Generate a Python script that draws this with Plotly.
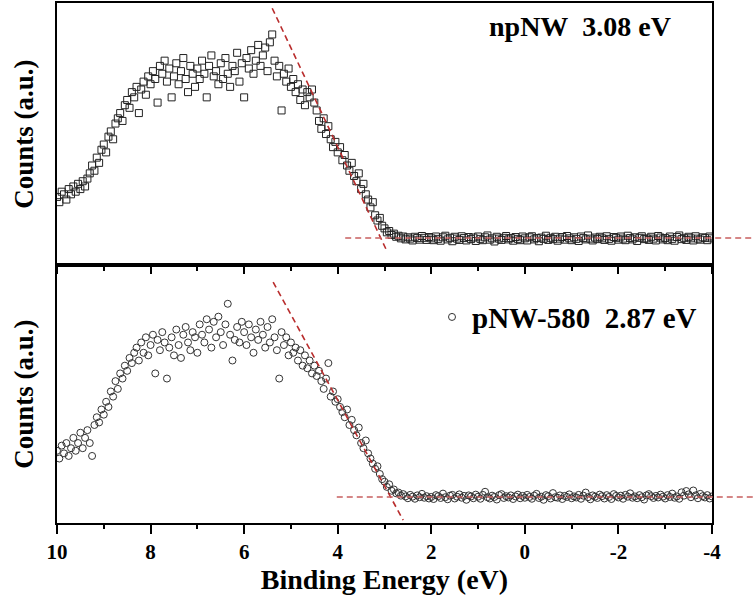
import numpy as np
import plotly.graph_objects as go

# ---------------- data ----------------
energy = np.round(np.linspace(10, -4, 281), 2)   # binding energy grid, 0.05 eV steps

counts_npNW = [
    26, 24, 28, 27, 25, 29, 27, 30, 28, 31, 29, 32, 30, 33, 35, 38, 36, 41, 39, 44,
    46, 43, 49, 51, 48, 54, 56, 58, 55, 61, 63, 60, 66, 64, 68, 58, 67, 70, 65, 72,
    69, 74, 71, 62, 76, 73, 78, 70, 75, 64, 72, 77, 69, 74, 79, 71, 66, 76, 73, 68,
    75, 71, 78, 73, 64, 76, 80, 72, 74, 69, 77, 71, 79, 73, 68, 76, 74, 81, 70, 77,
    64, 79, 75, 82, 73, 78, 84, 76, 80, 83, 74, 85, 88, 78, 72, 76, 59, 73, 70, 75,
    68, 71, 66, 69, 63, 67, 61, 66, 64, 67, 62, 59, 55, 52, 56, 50, 53, 48, 45, 47,
    43, 45, 40, 42, 38, 36, 39, 34, 32, 35, 29, 31, 27, 25, 22, 24, 19, 17, 18, 15,
    14, 12.5, 13, 11.5, 12, 10.8, 11.2, 10.2, 10.9, 9.8, 10.6, 10.1, 9.4, 10.8, 10.3, 9.7, 11.1, 10.4, 9.6, 10.7,
    10.2, 9.5, 10.9, 10.0, 9.3, 10.6, 11.2, 9.8, 10.4, 9.1, 10.8, 10.1, 9.6, 11.0, 10.3, 9.4, 10.7, 9.9, 10.5, 9.2,
    10.9, 10.0, 9.5, 10.6, 11.3, 9.7, 10.2, 9.0, 10.8, 10.1, 9.6, 10.4, 11.1, 9.8, 10.3, 9.3, 10.7, 10.0, 9.5, 10.9,
    10.2, 9.4, 10.6, 11.0, 9.8, 10.3, 9.1, 10.5, 10.0, 11.2, 9.6, 10.4, 9.9, 10.8, 9.3, 10.1, 10.7, 9.7, 11.1, 10.2,
    9.5, 10.6, 10.0, 9.2, 10.9, 10.3, 9.8, 11.3, 10.1, 9.4, 10.5, 9.9, 10.8, 10.2, 9.6, 11.0, 10.0, 9.3, 10.7, 10.4,
    9.7, 10.9, 10.1, 9.5, 11.2, 10.3, 9.8, 10.6, 9.2, 10.4, 11.0, 9.9, 10.2, 9.6, 10.8, 10.1, 9.4, 11.1, 10.5, 9.8,
    10.3, 9.5, 10.9, 10.0, 9.3, 10.7, 11.3, 9.9, 10.4, 9.6, 10.8, 10.2, 9.4, 11.0, 10.1, 9.7, 10.6, 10.3, 9.5, 10.9,
    10.2,
]

counts_pNW580 = [
    28, 25, 30, 27, 31, 26, 29, 33, 28, 31, 35, 29, 33, 36, 31, 26, 38, 41, 39, 44,
    42, 47, 45, 51, 49, 55, 52, 58, 56, 61, 59, 64, 62, 66, 68, 63, 70, 66, 72, 65,
    69, 73, 58, 71, 67, 74, 70, 56, 68, 72, 65, 75, 69, 64, 73, 76, 70, 67, 74, 72,
    66, 77, 73, 70, 79, 75, 68, 78, 72, 80, 74, 69, 77, 85, 73, 63, 71, 76, 70, 78,
    74, 69, 77, 72, 66, 75, 71, 78, 73, 68, 76, 70, 79, 72, 67, 56, 74, 69, 72, 65,
    70, 66, 68, 63, 67, 61, 65, 60, 63, 58, 61, 57, 59, 55, 52, 56, 62, 49, 51, 47,
    48, 45, 43, 41, 44, 38, 40, 36, 34, 37, 31, 29, 32, 27, 25, 23, 21, 22, 19, 17,
    16, 14, 15, 12.5, 13, 11.5, 11.8, 10.6, 11.2, 10.3, 9.6, 10.9, 10.2, 9.4, 10.7, 10.0, 11.3, 9.8, 10.4, 9.5,
    10.1, 9.3, 10.8, 10.4, 9.7, 11.4, 10.0, 9.2, 10.6, 10.9, 9.5, 10.2, 11.1, 9.8, 10.5, 9.0, 10.7, 10.3, 9.6, 11.0,
    10.2, 9.4, 10.9, 12.1, 10.0, 9.5, 10.6, 10.1, 9.1, 10.8, 11.2, 9.7, 10.4, 9.9, 10.7, 9.3, 10.3, 11.0, 9.6, 10.5,
    9.8, 10.9, 10.1, 9.4, 10.6, 11.3, 9.7, 10.2, 9.0, 10.8, 10.4, 9.5, 11.6, 10.0, 9.8, 10.7, 9.3, 10.5, 10.1, 11.1,
    9.6, 10.3, 9.9, 10.9, 9.4, 10.6, 11.8, 10.0, 9.2, 10.7, 10.2, 9.7, 11.0, 10.4, 9.5, 10.8, 10.1, 9.3, 11.2, 10.5,
    9.9, 10.6, 9.4, 10.9, 10.2, 11.5, 9.8, 10.3, 9.6, 10.8, 10.0, 9.1, 10.7, 11.2, 10.4, 9.7, 10.5, 9.9, 11.0, 10.2,
    9.5, 10.8, 10.1, 11.4, 9.8, 10.3, 9.4, 11.9, 10.6, 12.4, 11.1, 10.0, 12.6, 10.7, 9.6, 11.3, 10.4, 9.9, 10.8, 9.5,
    10.3,
]

# linear fits of the leading edge and of the background
fit_edge_npNW_x = [5.40, 2.95]
fit_edge_npNW_y = [98.0, 5.4]
fit_base_npNW_x = [3.84, -4.88]
fit_base_npNW_y = [10.3, 10.3]

fit_edge_pNW_x = [5.38, 2.60]
fit_edge_pNW_y = [93.4, 1.1]
fit_base_pNW_x = [4.02, -4.88]
fit_base_pNW_y = [10.1, 10.1]

label_npNW = "npNW\u00a0\u00a03.08 eV"
label_pNW = "pNW-580\u00a0\u00a02.87 eV"

x_range = [10, -4]
x_tickvals = [10, 8, 6, 4, 2, 0, -2, -4]
x_ticktext = ["10", "8", "6", "4", "2", "0", "-2", "-4"]

# ---------------- figure ----------------
SERIF = "Liberation Serif"
EDGE_COLOR = "rgb(185,45,45)"
BASE_COLOR = "rgb(200,95,95)"
DASH = "6px,4px"

def to_domain(xv):
    # data x -> fraction of the x-axis domain (reversed axis)
    return (x_range[0] - xv) / (x_range[0] - x_range[1])

fig = go.Figure()

fig.add_trace(go.Scatter(
    x=energy, y=counts_npNW, mode="markers", xaxis="x", yaxis="y",
    marker=dict(symbol="square-open", size=7, color="#222", line=dict(width=1)),
    showlegend=False, name=label_npNW))
fig.add_trace(go.Scatter(
    x=fit_edge_npNW_x, y=fit_edge_npNW_y, mode="lines", xaxis="x", yaxis="y",
    line=dict(color=EDGE_COLOR, width=1.6, dash=DASH), showlegend=False))

fig.add_trace(go.Scatter(
    x=energy, y=counts_pNW580, mode="markers", xaxis="x2", yaxis="y2",
    marker=dict(symbol="circle-open", size=7, color="#333", line=dict(width=1)),
    showlegend=True, name="<b>" + label_pNW + "</b>"))
fig.add_trace(go.Scatter(
    x=fit_edge_pNW_x, y=fit_edge_pNW_y, mode="lines", xaxis="x2", yaxis="y2",
    line=dict(color=EDGE_COLOR, width=1.6, dash=DASH), showlegend=False))

# background lines: extend past the right frame as in the original
for xs, ys, yr in [(fit_base_npNW_x, fit_base_npNW_y, "y"),
                   (fit_base_pNW_x, fit_base_pNW_y, "y2")]:
    fig.add_shape(type="line", xref="paper", yref=yr,
                  x0=to_domain(xs[0]), x1=to_domain(xs[1]), y0=ys[0], y1=ys[1],
                  line=dict(color=BASE_COLOR, width=1.5, dash=DASH), layer="above")

axis_common = dict(range=x_range, showline=True, linewidth=2, linecolor="black",
                   mirror=True, showgrid=False, zeroline=False, automargin=False,
                   tickvals=x_tickvals, ticktext=x_ticktext,
                   ticks="outside", tickwidth=1.5, tickcolor="black",
                   minor=dict(dtick=1, tick0=0, ticks="outside", ticklen=4,
                              tickwidth=1.5, tickcolor="black"))

y_common = dict(range=[0, 100], showline=True, linewidth=2, linecolor="black",
                mirror=True, showgrid=False, zeroline=False, ticks="",
                showticklabels=False, automargin=False,
                title=dict(text="<b>Counts (a.u.)</b>", standoff=14,
                           font=dict(family=SERIF, size=27, color="black")))

fig.update_layout(
    width=753, height=600,
    margin=dict(l=57, r=41, t=3, b=77, autoexpand=False),
    plot_bgcolor="white", paper_bgcolor="white",
    xaxis=dict(axis_common, anchor="y", ticklen=7, showticklabels=False),
    xaxis2=dict(axis_common, anchor="y2", ticklen=9, matches="x",
                tickfont=dict(family=SERIF, size=21, color="black", weight="bold"),
                title=dict(text="<b>Binding Energy (eV)</b>", standoff=6,
                           font=dict(family=SERIF, size=28, color="black"))),
    yaxis=dict(y_common, domain=[0.496, 1], anchor="x"),
    yaxis2=dict(y_common, domain=[0, 0.496], anchor="x2"),
    showlegend=True,
    legend=dict(x=(702 - 57) / 655, xanchor="right", y=0.396, yanchor="middle",
                bgcolor="rgba(0,0,0,0)", borderwidth=0, itemwidth=30,
                font=dict(family=SERIF, size=29, color="black")),
    annotations=[dict(text="<b>" + label_npNW + "</b>", xref="x domain", yref="y domain",
                      x=0.94, y=0.912, xanchor="right", yanchor="middle",
                      showarrow=False,
                      font=dict(family=SERIF, size=28, color="black"))],
)

fig.write_html("out.html", config={"displayModeBar": False},
               post_script="document.body.style.margin='0px';")
